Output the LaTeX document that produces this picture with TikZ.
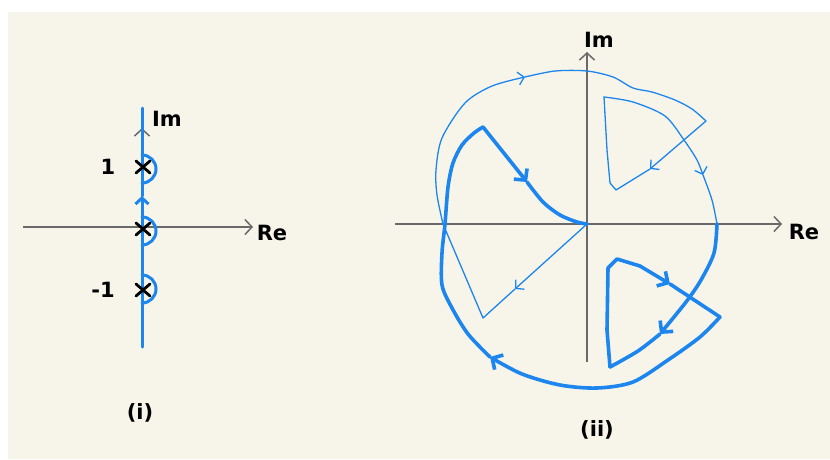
\documentclass[tikz,border=0pt]{standalone}
\usepackage{fontspec}
\setsansfont{DejaVu Sans}
\usetikzlibrary{arrows.meta}
\definecolor{paper}{RGB}{247,245,233}
\definecolor{nyqblue}{RGB}{28,134,238}
\definecolor{axisgray}{RGB}{105,105,105}
\tikzset{
  % Axes
  axisline/.style  = {draw=axisgray, line width=1.5pt, -{Straight Barb[length=7pt,width=15pt]}},
  % Plot lines
  thinplot/.style  = {draw=nyqblue, line width=1.3pt, line cap=round, line join=round},
  thickplot/.style = {draw=nyqblue, line width=3.6pt, line cap=round, line join=round},
  contour/.style   = {draw=nyqblue, line width=3pt, line cap=round},
  % Arrow heads
  thinhead/.style  = {-{Straight Barb[length=6pt,width=13pt]}},
  thickhead/.style = {-{Straight Barb[length=8pt,width=17pt]}},
  % Poles
  polex/.style     = {draw=black, line width=2.8pt, line cap=round},
  % Labels
  lab/.style       = {font=\fontsize{21}{24}\sffamily\bfseries, inner sep=0pt},
}
\begin{document}
\begin{tikzpicture}[x=1pt, y=-1pt]
  \useasboundingbox (0,0) rectangle (830,459);
  \fill[white] (0,0) rectangle (830,459);
  \fill[paper] (8,12) rectangle (830,459);
  % (i) contour in the s-plane
  \draw[axisline] (23,227) -- (253,227);
  \draw[axisline] (142,300) -- (142,128);
  \draw[contour, -{Straight Barb[length=6pt,width=13pt]}] (142,347) -- (142,196);
  \draw[contour] (142,196) -- (142,108);
  \foreach \py in {169,231,289}
    \draw[contour] (142,\py-14) arc[start angle=-90, end angle=90, radius=14];
  \foreach \py in {167,229,290}
    \draw[polex] (136,\py-6) -- (150,\py+6) (136,\py+6) -- (150,\py-6);
  \node[lab] (im1) at (167,119) {Im};
  \node[lab] (re1) at (272,233) {Re};
  \node[lab] (one) at (108,167) {1};
  \node[lab] (mone) at (103,290) {-1};
  \node[lab] (cap1) at (140,413) {(i)};
  % (ii) Nyquist plot
  \draw[axisline] (395,224) -- (782,224);
  \draw[axisline] (587,362) -- (587,52);
  % thin part
  \draw[thinplot, thinhead] (587,224) -- (515,289);
  \draw[thinplot] (515,289) -- (483,318) -- (443,224);
  \draw[thinplot, thinhead] plot[smooth] coordinates {(443,224) (437,195) (436,170) (442,138) (465,103) (492,86) (525,77)};
  \draw[thinplot] plot[smooth] coordinates {(525,77) (555,71) (587,71) (613,77) (633,88) (652,92) (675,100) (692,109) (706,121)};
  \draw[thinplot, thinhead] (706,121) -- (650,169);
  \draw[thinplot] (650,169) -- (616,190) -- (610,183) -- (607,150) -- (604,97);
  \draw[thinplot, thinhead] plot[smooth] coordinates {(604,97) (633,102) (665,116) (684,140) (697,160) (703,175)};
  \draw[thinplot] plot[smooth] coordinates {(703,175) (712,200) (717,224)};
  % thick part
  \draw[thickplot, thickhead] plot[smooth] coordinates {(717,224) (714,253) (701,280) (686,302) (660,334)};
  \draw[thickplot] plot[smooth] coordinates {(660,334) (638,351) (610,367)};
  \draw[thickplot] (610,367) -- (607,330) -- (608,268) -- (617,259) -- (640,266);
  \draw[thickplot, thickhead] (640,266) -- (670,284);
  \draw[thickplot] (670,284) -- (720,317);
  \draw[thickplot, thickhead] plot[smooth] coordinates {(720,317) (700,337) (668,360) (633,382) (597,388) (560,385) (522,374) (490,357)};
  \draw[thickplot] plot[smooth] coordinates {(490,357) (468,334) (452,308) (442,285) (442,253) (445,224) (448,187) (453,163) (462,145) (474,133) (483,127)};
  \draw[thickplot, thickhead] (483,127) -- (527,182);
  \draw[thickplot] plot[smooth] coordinates {(527,182) (543,202) (560,215) (577,222) (587,224)};
  \node[lab] (im2) at (599,40) {Im};
  \node[lab] (re2) at (804,232) {Re};
  \node[lab] (cap2) at (597,430) {(ii)};
\end{tikzpicture}
\end{document}
